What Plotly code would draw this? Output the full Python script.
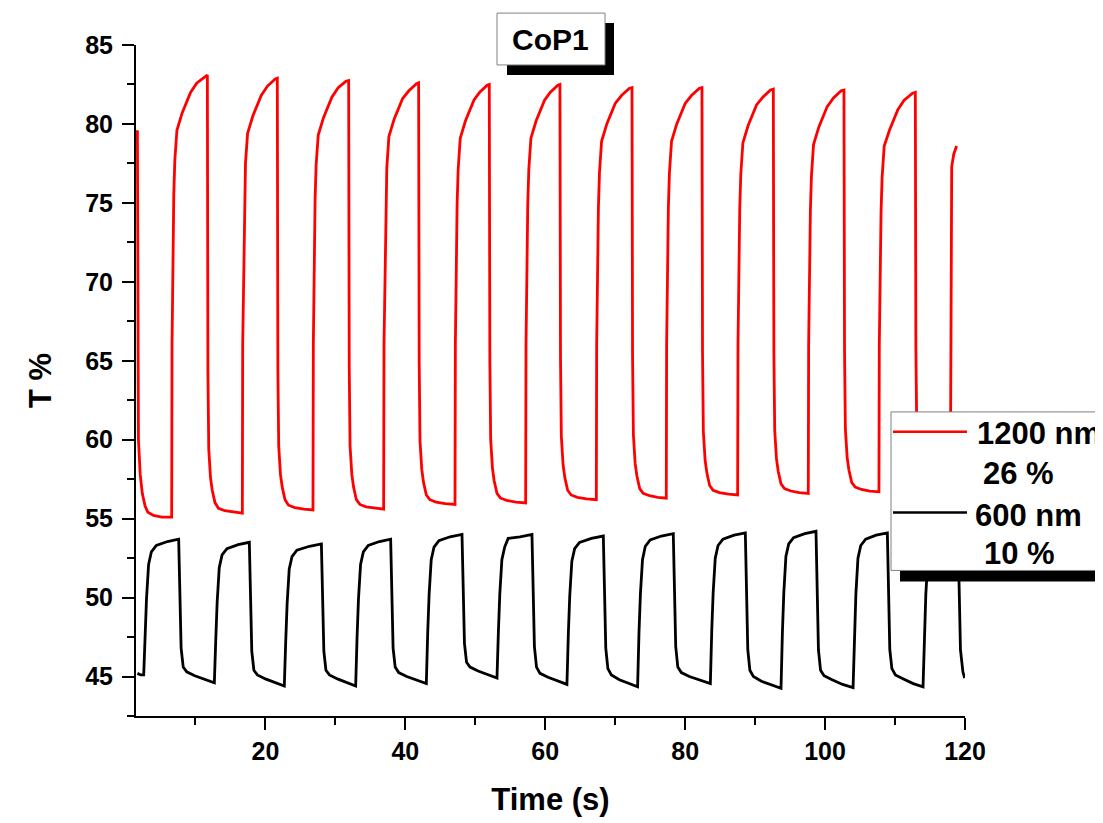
import plotly.graph_objects as go

# ---------------- data ----------------
red_time = [
    1.7, 1.75, 1.85, 2.1, 2.4, 2.8, 3.2, 4.0, 5.2, 6.6,
    6.65, 6.9, 7.05, 7.35, 8.1, 9.3, 10.2, 11.4, 11.7,
    11.78, 11.9, 12.15, 12.4, 12.8, 13.3, 14.2, 15.5, 16.7,
    16.75, 17.0, 17.15, 17.45, 18.2, 19.4, 20.3, 21.4, 21.7,
    21.78, 21.9, 22.15, 22.4, 22.8, 23.3, 24.2, 25.5, 26.8,
    26.85, 27.1, 27.25, 27.55, 28.3, 29.5, 30.4, 31.5, 31.9,
    31.98, 32.1, 32.35, 32.6, 33.0, 33.5, 34.4, 35.7, 36.9,
    36.95, 37.2, 37.35, 37.65, 38.4, 39.6, 40.5, 41.6, 41.9,
    41.98, 42.1, 42.35, 42.6, 43.0, 43.5, 44.4, 45.7, 47.1,
    47.15, 47.4, 47.55, 47.85, 48.6, 49.8, 50.6, 51.7, 52.0,
    52.08, 52.2, 52.45, 52.7, 53.1, 53.6, 54.5, 55.8, 57.2,
    57.25, 57.5, 57.65, 57.95, 58.7, 59.9, 60.7, 61.8, 62.1,
    62.18, 62.3, 62.55, 62.8, 63.2, 63.7, 64.6, 65.9, 67.3,
    67.35, 67.6, 67.75, 68.05, 68.8, 70.0, 70.9, 72.0, 72.4,
    72.48, 72.6, 72.85, 73.1, 73.5, 74.0, 74.9, 76.1, 77.3,
    77.35, 77.6, 77.75, 78.05, 78.8, 80.0, 80.9, 82.0, 82.4,
    82.48, 82.6, 82.85, 83.1, 83.5, 84.0, 84.9, 86.2, 87.5,
    87.55, 87.8, 87.95, 88.25, 89.0, 90.2, 91.1, 92.2, 92.6,
    92.68, 92.8, 93.05, 93.3, 93.7, 94.2, 95.1, 96.3, 97.6,
    97.65, 97.9, 98.05, 98.35, 99.1, 100.3, 101.2, 102.3, 102.7,
    102.78, 102.9, 103.15, 103.4, 103.8, 104.3, 105.2, 106.4, 107.7,
    107.75, 108.0, 108.15, 108.45, 109.2, 110.4, 111.3, 112.5, 112.9,
    112.98, 113.1, 113.35, 113.6, 114.0, 114.5, 115.4, 116.6, 117.9,
    117.95, 118.1, 118.4, 118.8,
]
red_T = [
    79.6, 68.0, 60.0, 57.8, 56.6, 55.8, 55.4, 55.2, 55.1, 55.1,
    66.0, 75.5, 77.7, 79.6, 80.7, 82.0, 82.6, 83.0, 83.1,
    64.3, 59.4, 57.6, 56.8, 56.0, 55.65, 55.5, 55.4, 55.35,
    66.0, 75.3, 77.5, 79.4, 80.5, 81.8, 82.4, 82.85, 82.9,
    64.5, 59.6, 57.8, 57.0, 56.2, 55.85, 55.7, 55.6, 55.55,
    66.0, 75.2, 77.4, 79.3, 80.4, 81.7, 82.3, 82.7, 82.75,
    64.6, 59.6, 57.8, 57.0, 56.2, 55.9, 55.75, 55.65, 55.6,
    66.0, 75.0, 77.2, 79.2, 80.3, 81.6, 82.1, 82.55, 82.6,
    64.9, 59.9, 58.1, 57.3, 56.5, 56.2, 56.05, 55.95, 55.9,
    66.0, 74.9, 77.1, 79.1, 80.2, 81.5, 82.0, 82.45, 82.5,
    65.0, 60.0, 58.2, 57.4, 56.6, 56.3, 56.15, 56.05, 56.0,
    66.0, 74.9, 77.1, 79.1, 80.2, 81.5, 82.0, 82.45, 82.5,
    65.2, 60.2, 58.4, 57.6, 56.8, 56.5, 56.35, 56.25, 56.2,
    66.0, 74.7, 76.9, 78.9, 80.0, 81.3, 81.8, 82.25, 82.3,
    65.3, 60.3, 58.5, 57.7, 56.9, 56.6, 56.45, 56.35, 56.3,
    66.0, 74.7, 76.9, 78.9, 80.0, 81.3, 81.8, 82.25, 82.3,
    65.5, 60.5, 58.7, 57.9, 57.1, 56.8, 56.65, 56.55, 56.5,
    66.0, 74.6, 76.8, 78.8, 79.9, 81.2, 81.7, 82.15, 82.2,
    65.6, 60.6, 58.8, 58.0, 57.2, 56.9, 56.75, 56.65, 56.6,
    66.0, 74.5, 76.7, 78.7, 79.8, 81.1, 81.65, 82.1, 82.15,
    65.7, 60.7, 58.9, 58.1, 57.3, 57.0, 56.85, 56.75, 56.7,
    66.0, 74.4, 76.6, 78.6, 79.6, 80.9, 81.5, 81.95, 82.0,
    65.8, 60.8, 59.0, 58.2, 57.4, 57.1, 56.95, 56.85, 56.8,
    66.0, 77.3, 78.1, 78.6,
]

black_time = [
    1.7, 2.2, 2.6,
    2.8, 3.0, 3.3, 3.7, 4.4, 6.0, 7.6,
    7.75, 7.95, 8.25, 8.75, 9.9, 11.3, 12.7,
    12.9, 13.1, 13.4, 13.8, 14.5, 16.1, 17.7,
    17.85, 18.05, 18.35, 18.85, 20.0, 21.4, 22.7,
    22.9, 23.1, 23.4, 23.8, 24.5, 26.3, 28.0,
    28.15, 28.35, 28.65, 29.15, 30.3, 31.6, 32.9,
    33.1, 33.3, 33.6, 34.0, 34.7, 36.3, 37.9,
    38.05, 38.25, 38.55, 39.05, 40.2, 41.6, 43.0,
    43.2, 43.4, 43.7, 44.1, 44.8, 46.4, 48.1,
    48.25, 48.45, 48.75, 49.25, 50.4, 51.8, 53.1,
    53.3, 53.5, 53.8, 54.2, 54.7, 56.4, 58.1,
    58.25, 58.45, 58.75, 59.25, 60.4, 61.8, 63.1,
    63.3, 63.5, 63.8, 64.2, 64.9, 66.6, 68.3,
    68.45, 68.65, 68.95, 69.45, 70.6, 72.0, 73.2,
    73.4, 73.6, 73.9, 74.3, 75.0, 76.6, 78.3,
    78.45, 78.65, 78.95, 79.45, 80.6, 82.1, 83.6,
    83.8, 84.0, 84.3, 84.7, 85.4, 87.0, 88.6,
    88.75, 88.95, 89.25, 89.75, 90.9, 92.3, 93.7,
    93.9, 94.1, 94.4, 94.8, 95.5, 97.1, 98.7,
    98.85, 99.05, 99.35, 99.85, 101.0, 102.5, 104.0,
    104.2, 104.4, 104.7, 105.1, 105.8, 107.3, 108.9,
    109.05, 109.25, 109.55, 110.05, 111.2, 112.6, 114.0,
    114.2, 114.4, 114.7, 115.1, 115.8, 117.4, 119.0,
    119.15, 119.35, 119.7, 119.95,
]
black_T = [
    45.2, 45.1, 45.1,
    47.5, 49.9, 52.1, 52.9, 53.3, 53.55, 53.7,
    50.2, 46.8, 45.6, 45.3, 45.05, 44.8, 44.6,
    47.3, 49.7, 51.9, 52.7, 53.1, 53.35, 53.5,
    50.0, 46.6, 45.4, 45.1, 44.85, 44.6, 44.4,
    47.2, 49.6, 51.8, 52.6, 53.0, 53.25, 53.4,
    50.0, 46.6, 45.4, 45.1, 44.85, 44.6, 44.4,
    47.5, 49.9, 52.1, 52.9, 53.3, 53.55, 53.7,
    50.2, 46.8, 45.6, 45.25, 45.0, 44.75, 44.55,
    47.8, 50.2, 52.4, 53.2, 53.6, 53.85, 54.0,
    50.5, 47.1, 45.9, 45.6, 45.35, 45.1, 44.9,
    47.8, 50.2, 52.4, 53.2, 53.75, 53.85, 54.0,
    50.3, 46.9, 45.6, 45.2, 44.95, 44.7, 44.5,
    47.7, 50.1, 52.3, 53.1, 53.5, 53.75, 53.9,
    50.2, 46.8, 45.5, 45.1, 44.8, 44.55, 44.35,
    47.8, 50.2, 52.4, 53.25, 53.65, 53.9, 54.05,
    50.3, 46.9, 45.6, 45.25, 45.0, 44.75, 44.55,
    47.9, 50.3, 52.5, 53.3, 53.7, 53.95, 54.1,
    50.1, 46.7, 45.4, 45.0, 44.7, 44.45, 44.25,
    47.8, 50.3, 52.6, 53.4, 53.8, 54.05, 54.2,
    50.1, 46.7, 45.4, 45.05, 44.8, 44.5, 44.3,
    47.8, 50.2, 52.5, 53.3, 53.7, 53.95, 54.1,
    50.1, 46.7, 45.5, 45.1, 44.85, 44.55, 44.35,
    47.8, 50.2, 52.5, 53.3, 53.7, 53.95, 54.1,
    50.1, 46.7, 45.3, 44.9,
]

series_names = ["1200 nm", "600 nm"]
series_notes = ["26 %", "10 %"]
series_colors = ["#ff0000", "#000000"]
chart_title = "CoP1"
x_title = "Time (s)"
y_title = "T %"

assert len(red_time) == len(red_T)
assert len(black_time) == len(black_T)

FONT = "Liberation Sans, Arial, sans-serif"

fig = go.Figure()
fig.add_trace(go.Scatter(x=red_time, y=red_T, mode="lines",
                         line=dict(color=series_colors[0], width=2.8),
                         name=series_names[0], showlegend=False))
fig.add_trace(go.Scatter(x=black_time, y=black_T, mode="lines",
                         line=dict(color=series_colors[1], width=2.8),
                         name=series_names[1], showlegend=False))

tickfont = dict(family=FONT, size=25, color="black", weight="bold")
titlefont = dict(family=FONT, size=31, color="black", weight="bold")

# the page puts the figure 8px in from the top-left corner
OFF = 8
fig.update_layout(
    width=1103 - OFF, height=823 - OFF,
    margin=dict(l=136 - OFF, r=138, t=45 - OFF, b=105, pad=0),
    paper_bgcolor="white", plot_bgcolor="white",
    showlegend=False,
    xaxis=dict(
        range=[1.5, 120], tickmode="linear", tick0=0, dtick=20,
        ticks="outside", ticklen=12, tickwidth=2, tickcolor="black",
        showline=True, linecolor="black", linewidth=2, mirror=False,
        showgrid=False, zeroline=False, tickfont=tickfont,
        minor=dict(tickmode="linear", tick0=0, dtick=10, ticks="outside",
                   ticklen=7, tickwidth=2, tickcolor="black", showgrid=False),
        title=dict(text=x_title, font=titlefont, standoff=24),
    ),
    yaxis=dict(
        range=[42.5, 85], tickmode="linear", tick0=0, dtick=5,
        ticks="outside", ticklen=12, tickwidth=2, tickcolor="black",
        showline=True, linecolor="black", linewidth=2, mirror=False,
        showgrid=False, zeroline=False, tickfont=tickfont,
        ticklabelstandoff=4,
        minor=dict(tickmode="linear", tick0=0, dtick=2.5, ticks="outside",
                   ticklen=7, tickwidth=2, tickcolor="black", showgrid=False),
        title=dict(text=y_title, font=titlefont, standoff=24),
    ),
)

# helpers to convert reference pixel layout to paper coordinates
PX0, PX1, PY0, PY1 = 136, 965, 718, 45
def px(xp):
    return (xp - PX0) / (PX1 - PX0)
def py(yp):
    return (PY0 - yp) / (PY0 - PY1)

shapes = []
# title box with drop shadow
shapes.append(dict(type="rect", xref="paper", yref="paper", layer="above",
                   x0=px(507), x1=px(614), y0=py(75), y1=py(23),
                   fillcolor="black", line=dict(width=0)))
shapes.append(dict(type="rect", xref="paper", yref="paper", layer="above",
                   x0=px(497), x1=px(605), y0=py(65), y1=py(13),
                   fillcolor="white", line=dict(color="#808080", width=1)))
# legend box with drop shadow
shapes.append(dict(type="rect", xref="paper", yref="paper", layer="above",
                   x0=px(900), x1=px(1120), y0=py(583), y1=py(423),
                   fillcolor="black", line=dict(width=0)))
shapes.append(dict(type="rect", xref="paper", yref="paper", layer="above",
                   x0=px(891), x1=px(1120), y0=py(572), y1=py(413),
                   fillcolor="white", line=dict(color="#808080", width=1)))
# legend samples
shapes.append(dict(type="line", xref="paper", yref="paper", layer="above",
                   x0=px(893), x1=px(967), y0=py(433), y1=py(433),
                   line=dict(color=series_colors[0], width=2.5)))
shapes.append(dict(type="line", xref="paper", yref="paper", layer="above",
                   x0=px(893), x1=px(967), y0=py(514), y1=py(514),
                   line=dict(color=series_colors[1], width=2.5)))

legfont = dict(family=FONT, size=31, color="black", weight="bold")
annotations = [
    dict(text=chart_title, xref="paper", yref="paper", x=px(550), y=py(39),
         xanchor="center", yanchor="middle", showarrow=False,
         font=dict(family=FONT, size=30, color="black", weight="bold")),
    dict(text=series_names[0], xref="paper", yref="paper", x=px(975), y=py(435),
         xanchor="left", yanchor="middle", showarrow=False, font=legfont),
    dict(text=series_notes[0], xref="paper", yref="paper", x=px(981), y=py(475),
         xanchor="left", yanchor="middle", showarrow=False, font=legfont),
    dict(text=series_names[1], xref="paper", yref="paper", x=px(973), y=py(517),
         xanchor="left", yanchor="middle", showarrow=False, font=legfont),
    dict(text=series_notes[1], xref="paper", yref="paper", x=px(982), y=py(555),
         xanchor="left", yanchor="middle", showarrow=False, font=legfont),
]
fig.update_layout(shapes=shapes, annotations=annotations)

fig.write_html("out.html")
